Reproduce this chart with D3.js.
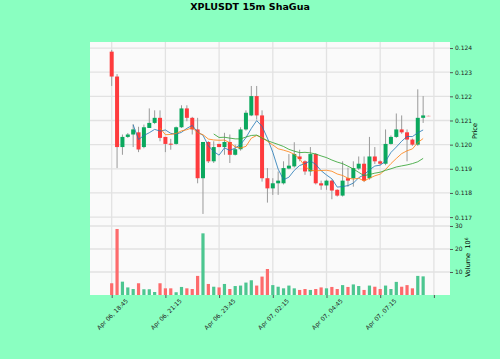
<!DOCTYPE html>
<html>
<head>
<meta charset="utf-8">
<script src="https://cdn.jsdelivr.net/npm/d3@7"></script>
<style>
  body { margin: 0; background: #8affc1; }
  svg { display: block; font-family: "DejaVu Sans", sans-serif; }
</style>
</head>
<body>
<div id="chart"></div>
<script>
// 15m candles, index 0 = Apr 06 18:45
var opens = [
  0.12385, 0.12282, 0.11990, 0.12032, 0.12042, 0.12051, 0.11990, 0.12069, 0.12090, 0.12111,
  0.12032, 0.12004, 0.12003, 0.12072, 0.12150, 0.12111, 0.12063, 0.11861, 0.12011, 0.11931,
  0.12003, 0.11990, 0.12011, 0.11958, 0.11981, 0.12063, 0.12121, 0.12201, 0.12121, 0.11861,
  0.11819, 0.11840, 0.11840, 0.11901, 0.11910, 0.11951, 0.11931, 0.11889, 0.11961, 0.11840,
  0.11831, 0.11851, 0.11813, 0.11789, 0.11861, 0.11861, 0.11901, 0.11921, 0.11861, 0.11951,
  0.11931, 0.11921, 0.12003, 0.12032, 0.12063, 0.12051, 0.12021, 0.12000, 0.12111, 0.12120
];
var highs = [
  0.12392, 0.12292, 0.12042, 0.12048, 0.12085, 0.12074, 0.12083, 0.12150, 0.12142, 0.12142,
  0.12032, 0.12024, 0.12075, 0.12163, 0.12163, 0.12115, 0.12111, 0.12011, 0.12014, 0.12014,
  0.12003, 0.12049, 0.12042, 0.12000, 0.12072, 0.12142, 0.12243, 0.12243, 0.12142, 0.11903,
  0.11861, 0.11889, 0.11931, 0.11961, 0.12010, 0.11979, 0.11935, 0.11990, 0.11965, 0.11851,
  0.11855, 0.11855, 0.11815, 0.11931, 0.11905, 0.11931, 0.11951, 0.11951, 0.12032, 0.11990,
  0.11935, 0.12063, 0.12038, 0.12129, 0.12121, 0.12063, 0.12025, 0.12229, 0.12201, 0.12122
];
var lows = [
  0.12243, 0.11903, 0.11958, 0.12028, 0.11990, 0.11969, 0.11985, 0.12069, 0.12085, 0.12014,
  0.11969, 0.11979, 0.12000, 0.12069, 0.12097, 0.12042, 0.11840, 0.11713, 0.11924, 0.11924,
  0.11990, 0.11958, 0.11924, 0.11955, 0.11975, 0.12058, 0.12118, 0.12104, 0.11847, 0.11760,
  0.11792, 0.11792, 0.11835, 0.11898, 0.11905, 0.11931, 0.11875, 0.11871, 0.11835, 0.11813,
  0.11813, 0.11774, 0.11785, 0.11785, 0.11826, 0.11826, 0.11895, 0.11845, 0.11855, 0.11920,
  0.11915, 0.11915, 0.12000, 0.12028, 0.12045, 0.11931, 0.11995, 0.11995, 0.12090, 0.12117
];
var closes = [
  0.12282, 0.11990, 0.12032, 0.12042, 0.12063, 0.11980, 0.12072, 0.12090, 0.12111, 0.12028,
  0.12003, 0.12002, 0.12072, 0.12150, 0.12111, 0.12063, 0.11861, 0.12011, 0.11931, 0.11990,
  0.11990, 0.12011, 0.11958, 0.11981, 0.12063, 0.12132, 0.12201, 0.12121, 0.11861, 0.11819,
  0.11840, 0.11851, 0.11903, 0.11913, 0.11961, 0.11940, 0.11889, 0.11961, 0.11840, 0.11831,
  0.11851, 0.11810, 0.11789, 0.11851, 0.11851, 0.11903, 0.11921, 0.11851, 0.11951, 0.11931,
  0.11921, 0.12003, 0.12032, 0.12063, 0.12051, 0.12021, 0.12000, 0.12111, 0.12121, 0.12118
];
// volume in units of 1e6
var volumes = [
  5.1, 28.7, 5.8, 3.3, 2.6, 5.1, 2.5, 2.5, 1.3, 5.1,
  2.9, 2.9, 1.2, 3.5, 2.9, 2.6, 8.3, 26.8, 4.8, 3.6,
  3.3, 4.8, 2.6, 3.9, 4.1, 5.4, 6.4, 4.1, 8.0, 11.3,
  4.3, 3.6, 2.9, 4.1, 2.9, 2.2, 2.6, 2.2, 2.6, 3.3,
  2.9, 3.5, 2.6, 4.3, 3.5, 4.6, 3.9, 2.2, 4.1, 3.6,
  2.6, 4.1, 2.6, 5.7, 3.6, 4.3, 2.9, 8.3, 8.1, 0
];

var tickIdx = [0, 10, 20, 30, 40, 50, 60];
var tickLabels = ["Apr 06, 18:45", "Apr 06, 21:15", "Apr 06, 23:45", "Apr 07, 02:15", "Apr 07, 04:45", "Apr 07, 07:15", ""];
var priceTicks = [0.117, 0.118, 0.119, 0.120, 0.121, 0.122, 0.123, 0.124];
var volTicks = [10, 20, 30];
var mavPeriods = [5, 10, 20];
var mavColors = ["#1f77b4", "#ff7f0e", "#2ca02c"];

var svgWidth = 500;
var svgHeight = 359;

var plot = { left: 90, right: 450, top: 42, split: 220, bottom: 295 };

var upColor = "#0ba85e";
var downColor = "#fe3b3d";
var volUp = "#4cc690";
var volDown = "#fd6b6c";

var svg = d3.select("#chart").append("svg")
  .attr("width", svgWidth)
  .attr("height", svgHeight);

var n = opens.length;

var xScale = d3.scaleLinear()
  .domain([-4.04, 63])
  .range([plot.left, plot.right]);

var yPrice = d3.scaleLinear()
  .domain([0.11688, 0.12425])
  .range([plot.split, plot.top]);

var yVol = d3.scaleLinear()
  .domain([0, 32.6])
  .range([plot.bottom, plot.split]);

// axes faces
svg.append("rect")
  .attr("x", plot.left).attr("y", plot.top)
  .attr("width", plot.right - plot.left)
  .attr("height", plot.bottom - plot.top)
  .attr("fill", "#fafafa");

// grid
var grid = svg.append("g").attr("stroke", "#e2e2e2").attr("stroke-width", 1.3);

grid.selectAll(".vg")
  .data(tickIdx)
  .enter()
  .append("line")
  .attr("x1", d => xScale(d)).attr("x2", d => xScale(d))
  .attr("y1", plot.top).attr("y2", plot.bottom);

grid.selectAll(".pg")
  .data(priceTicks)
  .enter()
  .append("line")
  .attr("x1", plot.left).attr("x2", plot.right)
  .attr("y1", d => yPrice(d)).attr("y2", d => yPrice(d));

grid.selectAll(".vlg")
  .data(volTicks)
  .enter()
  .append("line")
  .attr("x1", plot.left).attr("x2", plot.right)
  .attr("y1", d => yVol(d)).attr("y2", d => yVol(d));

var idx = d3.range(n);

// candles
var candles = svg.append("g");

candles.selectAll(".wick")
  .data(idx)
  .enter()
  .append("line")
  .attr("x1", i => xScale(i)).attr("x2", i => xScale(i))
  .attr("y1", i => yPrice(highs[i]))
  .attr("y2", i => yPrice(lows[i]))
  .attr("stroke", "#9a9a9a")
  .attr("stroke-width", 1)
  .attr("opacity", i => i === n - 1 ? 0.3 : 1);

candles.selectAll(".body")
  .data(idx)
  .enter()
  .append("rect")
  .attr("x", i => xScale(i) - 2)
  .attr("width", 4)
  .attr("y", i => yPrice(Math.max(opens[i], closes[i])))
  .attr("height", i => Math.max(1, Math.abs(yPrice(opens[i]) - yPrice(closes[i]))))
  .attr("fill", i => closes[i] >= opens[i] ? upColor : downColor)
  .attr("opacity", i => i === n - 1 ? 0.35 : 1);

// moving averages of the closes, like mav=(5,10,20)
mavPeriods.forEach(function(p, k)
{
  var pts = [];
  for (var i = p - 1; i < n - 1; i++)
  {
    pts.push([i, d3.mean(closes.slice(i - p + 1, i + 1))]);
  }
  svg.append("path")
    .datum(pts)
    .attr("fill", "none")
    .attr("stroke", mavColors[k])
    .attr("stroke-width", 1)
    .attr("opacity", 0.8)
    .attr("d", d3.line().x(d => xScale(d[0])).y(d => yPrice(d[1])));
});

// volume bars
svg.selectAll(".vol")
  .data(idx)
  .enter()
  .append("rect")
  .attr("x", i => xScale(i) - 1.6)
  .attr("width", 3.2)
  .attr("y", i => yVol(volumes[i]))
  .attr("height", i => yVol(0) - yVol(volumes[i]))
  .attr("fill", i => closes[i] >= opens[i] ? volUp : volDown);

// axes
var priceAxis = d3.axisRight(yPrice)
  .tickValues(priceTicks)
  .tickFormat(d3.format(".3f"))
  .tickSize(3)
  .tickPadding(2);

var volAxis = d3.axisRight(yVol)
  .tickValues(volTicks)
  .tickSize(3)
  .tickPadding(2);

var xAxis = d3.axisBottom(xScale)
  .tickValues(tickIdx)
  .tickFormat((d, i) => tickLabels[i])
  .tickSize(3);

var pa = svg.append("g")
  .attr("transform", `translate(${plot.right}, 0)`)
  .call(priceAxis);

var va = svg.append("g")
  .attr("transform", `translate(${plot.right}, 0)`)
  .call(volAxis);

var xa = svg.append("g")
  .attr("transform", `translate(0, ${plot.bottom})`)
  .call(xAxis);

[pa, va, xa].forEach(function(g)
{
  g.select(".domain").remove();
  g.selectAll("line").attr("stroke", "#555");
  g.selectAll("text")
    .attr("font-size", "6px")
    .attr("fill", "#222")
    .attr("font-family", "DejaVu Sans");
});

// rotated date labels, centred on the tick
xa.selectAll("text")
  .attr("y", 0)
  .attr("dy", 0)
  .attr("text-anchor", "middle")
  .attr("dominant-baseline", "central")
  .attr("transform", "translate(0, 19) rotate(-45)");

// titles
svg.append("text")
  .attr("x", 250)
  .attr("y", 10)
  .attr("text-anchor", "middle")
  .attr("font-size", "9.5px")
  .attr("font-weight", "bold")
  .text("XPLUSDT 15m ShaGua");

svg.append("text")
  .attr("transform", `translate(477, ${(plot.top + plot.split) / 2}) rotate(-90)`)
  .attr("text-anchor", "middle")
  .attr("font-size", "6.5px")
  .text("Price");

svg.append("text")
  .attr("transform", `translate(470, 265) rotate(-90)`)
  .attr("text-anchor", "middle")
  .attr("font-size", "6.5px")
  .text("Volume");

svg.append("text")
  .attr("transform", `translate(470, 243) rotate(-90)`)
  .attr("text-anchor", "middle")
  .attr("font-size", "6.5px")
  .html("10<tspan dy='-2.5' font-size='4.5px'>6</tspan>");
</script>
</body>
</html>
